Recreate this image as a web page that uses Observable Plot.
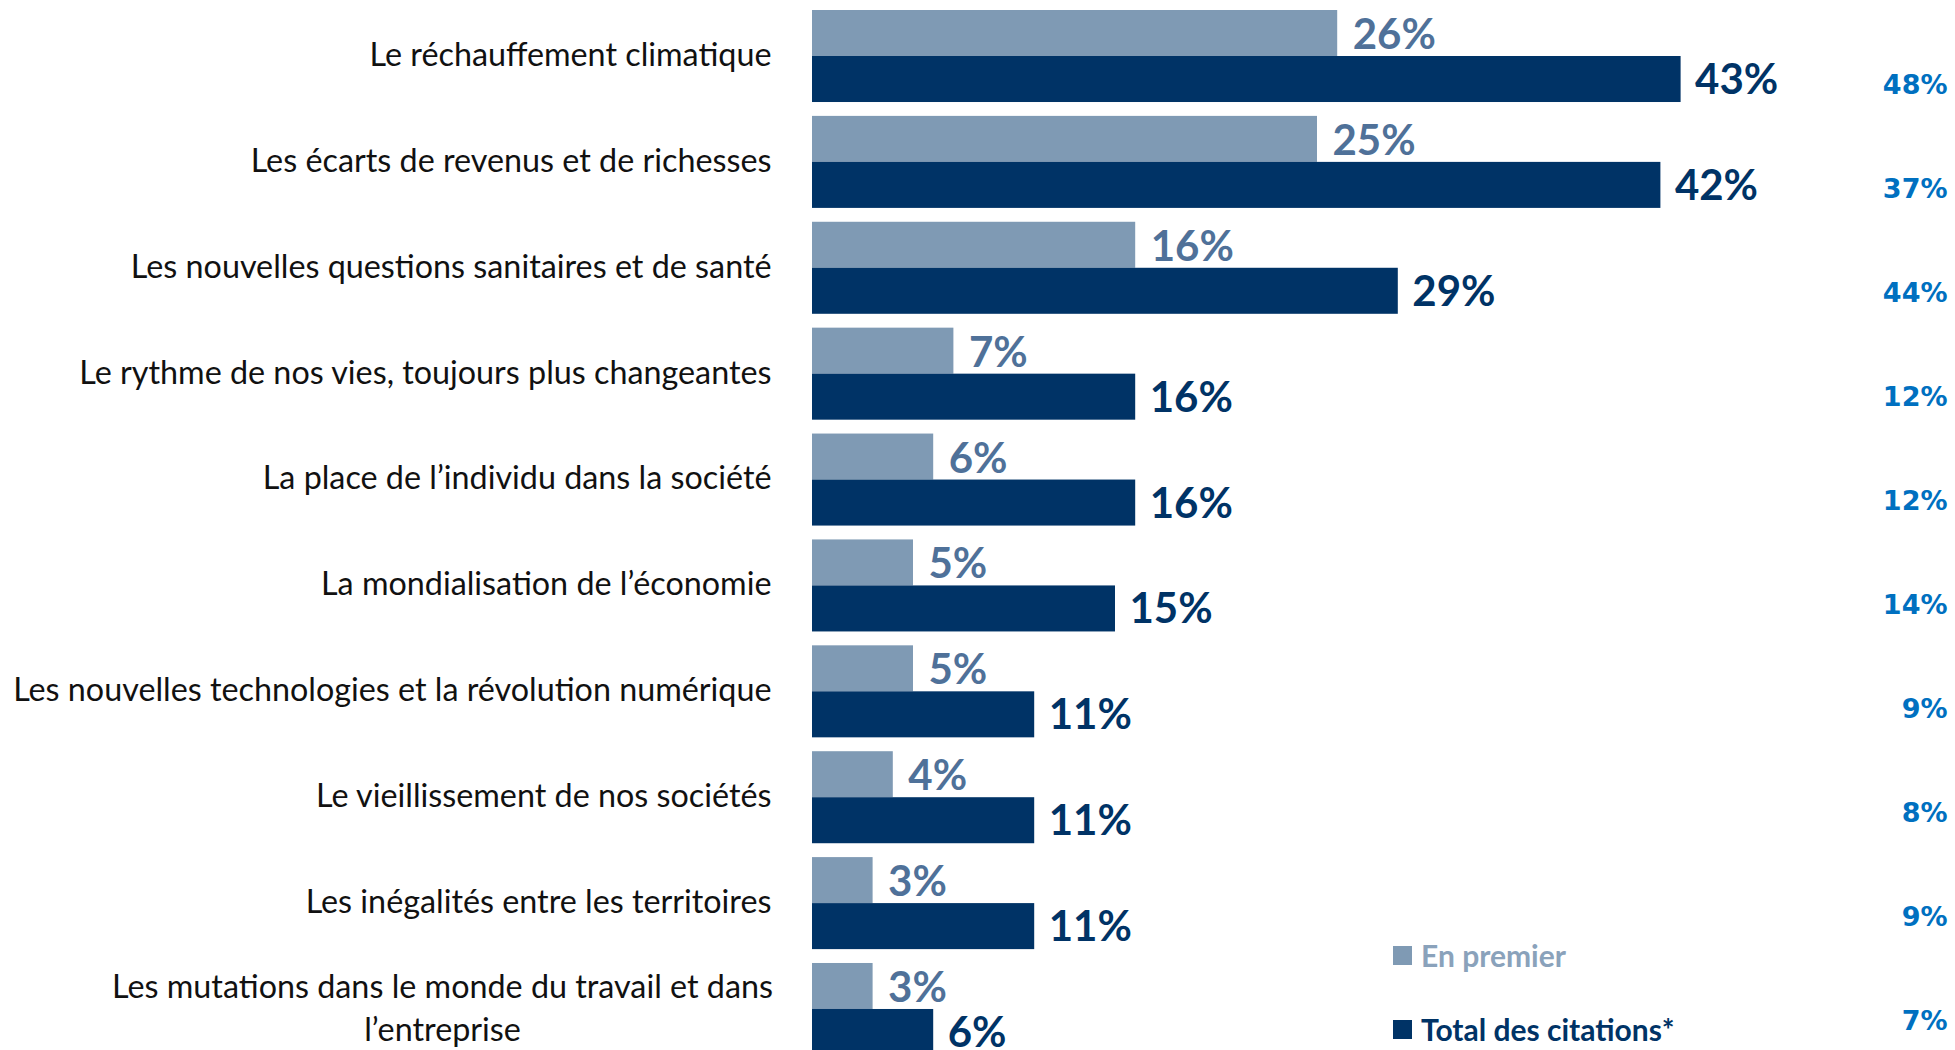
<!DOCTYPE html>
<html>
<head>
<meta charset="utf-8">
<script src="https://cdn.jsdelivr.net/npm/d3@7"></script>
<script src="https://cdn.jsdelivr.net/npm/@observablehq/plot@0.6"></script>
<style>
  html, body { margin: 0; padding: 0; background: #fff; overflow: hidden; }
  #wrap { position: relative; width: 1955px; height: 1050px; overflow: hidden; }
  #wrap svg { position: absolute; left: 0; top: 0; }
  .legend { position: absolute; left: 1393px; font-family: Lato, sans-serif; font-weight: bold; font-size: 30px; display: flex; align-items: center; white-space: nowrap; }
  .legend .sw { width: 19px; height: 19px; margin-right: 9px; }
</style>
</head>
<body>
<div id="wrap"></div>
<script>
const categories = [
  "Le réchauffement climatique",
  "Les écarts de revenus et de richesses",
  "Les nouvelles questions sanitaires et de santé",
  "Le rythme de nos vies, toujours plus changeantes",
  "La place de l’individu dans la société",
  "La mondialisation de l’économie",
  "Les nouvelles technologies et la révolution numérique",
  "Le vieillissement de nos sociétés",
  "Les inégalités entre les territoires",
  "Les mutations dans le monde du travail et dans\nl’entreprise"
];
const enPremier = [26, 25, 16, 7, 6, 5, 5, 4, 3, 3];
const totalCitations = [43, 42, 29, 16, 16, 15, 11, 11, 11, 6];
const colonneDroite = [48, 37, 44, 12, 12, 14, 9, 8, 9, 7];
const seriesNames = ["En premier", "Total des citations*"];
const seriesColors = ["#7F9AB4", "#003366"];

const data = categories.map((c, i) => ({
  category: c, premier: enPremier[i], total: totalCitations[i], droite: colonneDroite[i]
}));

const singleLine = categories.filter(c => !c.includes("\n"));
const multiLine = categories.filter(c => c.includes("\n"));

const chart = Plot.plot({
  width: 1955,
  height: 1070,
  marginLeft: 812,
  marginRight: 133,
  marginTop: 10,
  marginBottom: 15,
  style: { fontFamily: "Lato, sans-serif", background: "transparent" },
  x: { domain: [0, 50], axis: null },
  y: { domain: categories, paddingInner: 0.131, paddingOuter: 0, round: false, label: null, axis: null },
  marks: [
    Plot.barX(data, { y: "category", x: "premier", fill: seriesColors[0], insetBottom: 46 }),
    Plot.barX(data, { y: "category", x: "total", fill: seriesColors[1], insetTop: 46 }),
    Plot.text(data, { y: "category", x: "premier", text: d => d.premier + "%", textAnchor: "start", dx: 15, dy: -21, fill: "#4F7199", fontSize: 42, fontWeight: "bold" }),
    Plot.text(data, { y: "category", x: "total", text: d => d.total + "%", textAnchor: "start", dx: 14, dy: 24, fill: "#003366", fontSize: 42, fontWeight: "bold" }),
    Plot.axisY(singleLine, { tickSize: 0, tickPadding: 41, fontSize: 32.3, dy: -1, fill: "#111", label: null }),
    Plot.text(multiLine, { y: d => d, text: d => d, frameAnchor: "left", textAnchor: "middle", dx: -370, dy: -4, fontSize: 32.3, lineHeight: 1.33, fill: "#111" })
  ]
});
const wrap = document.getElementById("wrap");
wrap.appendChild(chart);

// right-hand column, its own evenly spaced rows
const rightCol = Plot.plot({
  width: 1955,
  height: 1050,
  marginLeft: 0,
  marginRight: 8,
  marginTop: 84,
  marginBottom: 29,
  style: { background: "transparent" },
  x: { axis: null },
  y: { type: "point", domain: categories, padding: 0, axis: null },
  marks: [
    Plot.text(data, { y: "category", text: d => d.droite + "%", frameAnchor: "right", textAnchor: "end", fill: "#0070C0", fontSize: 27, fontWeight: "bold", fontFamily: "DejaVu Sans" })
  ]
});
wrap.appendChild(rightCol);

const legendTops = [955, 1029];
seriesNames.forEach((name, i) => {
  const el = document.createElement("div");
  el.className = "legend";
  el.style.top = (legendTops[i] - 18) + "px";
  el.style.height = "36px";
  el.style.color = i === 0 ? "#8AA2BB" : "#003366";
  const sw = document.createElement("span");
  sw.className = "sw";
  sw.style.background = seriesColors[i];
  el.appendChild(sw);
  el.appendChild(document.createTextNode(name));
  wrap.appendChild(el);
});
</script>
</body>
</html>
